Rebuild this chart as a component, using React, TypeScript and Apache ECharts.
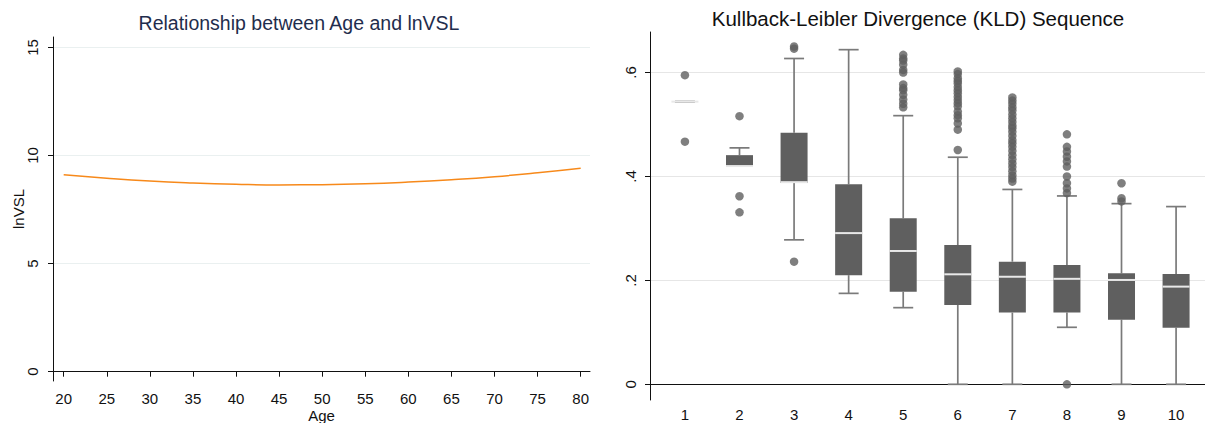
import React, { useEffect, useRef } from "react";
import * as echarts from "echarts";

// ---------- Left chart data ----------
const ageTicks = [20, 25, 30, 35, 40, 45, 50, 55, 60, 65, 70, 75, 80];
const lnvslTicks = [0, 5, 10, 15];
const ages = [20, 25, 30, 35, 40, 45, 50, 55, 60, 65, 70, 75, 80];
const lnVSL = [9.11, 8.95, 8.82, 8.73, 8.67, 8.64, 8.65, 8.69, 8.77, 8.88, 9.02, 9.2, 9.41];

// ---------- Right chart data ----------
const groups = [1, 2, 3, 4, 5, 6, 7, 8, 9, 10];
const whiskerLow = [0.544, 0.42, 0.278, 0.175, 0.1475, 0, 0, 0.1097, 0, 0];
const q1 = [0.544, 0.42, 0.3875, 0.21, 0.178, 0.1527, 0.138, 0.138, 0.1244, 0.109];
const median = [0.544, 0.42, 0.389, 0.291, 0.2566, 0.2117, 0.207, 0.203, 0.2008, 0.188];
const q3 = [0.544, 0.441, 0.484, 0.385, 0.3195, 0.268, 0.236, 0.2297, 0.2137, 0.2123];
const whiskerHigh = [0.544, 0.455, 0.627, 0.644, 0.517, 0.437, 0.375, 0.3625, 0.3477, 0.342];
const outliers: number[][] = [
  [0.595, 0.467],
  [0.516, 0.362, 0.331],
  [0.65, 0.646, 0.236],
  [],
  [0.634, 0.627, 0.623, 0.615, 0.605, 0.6, 0.577, 0.57, 0.566, 0.557, 0.548, 0.54, 0.533],
  [0.602, 0.597, 0.589, 0.584, 0.579, 0.572, 0.566, 0.56, 0.553, 0.547, 0.541, 0.535, 0.525, 0.518, 0.512, 0.502, 0.49, 0.451],
  [0.552, 0.546, 0.54, 0.533, 0.527, 0.519, 0.512, 0.505, 0.498, 0.493, 0.486, 0.478, 0.47, 0.464, 0.457, 0.449, 0.441, 0.433, 0.425, 0.418, 0.41, 0.402, 0.396, 0.39],
  [0.481, 0.457, 0.448, 0.438, 0.429, 0.419, 0.4, 0.387, 0.377, 0.368, 0],
  [0.387, 0.358, 0.352],
  [],
];
const kldTicks = [0, 0.2, 0.4, 0.6];

const FONT = "'Liberation Sans', Arial, Helvetica, sans-serif";
const BOX = "#5f5f5f";
const WHISK = "#7a7a7a";

export default function App() {
  const ref = useRef<HTMLDivElement>(null);
  useEffect(() => {
    if (!ref.current) return;
    const chart = echarts.init(ref.current, null, { renderer: "svg" });

    const boxData = groups.map((g, i) => [g, whiskerLow[i], q1[i], median[i], q3[i], whiskerHigh[i]]);
    const outData: number[][] = [];
    groups.forEach((g, i) => outliers[i].forEach((v) => outData.push([g, v])));

    const option: any = {
      animation: false,
      textStyle: { fontFamily: FONT },
      graphic: [
        {
          type: "text",
          x: 299,
          y: 23,
          style: {
            text: "Relationship between Age and lnVSL",
            textAlign: "center",
            textVerticalAlign: "middle",
            font: `19.5px ${FONT}`,
            fill: "#1f2d4d",
          },
        },
        {
          type: "text",
          x: 918,
          y: 18,
          style: {
            text: "Kullback-Leibler Divergence (KLD) Sequence",
            textAlign: "center",
            textVerticalAlign: "middle",
            font: `20.5px ${FONT}`,
            fill: "#111",
          },
        },
      ],
      grid: [
        { left: 53, top: 37, width: 537, height: 344, containLabel: false, outerBoundsMode: "none" },
        { left: 650, top: 32, width: 555, height: 368, containLabel: false, outerBoundsMode: "none" },
      ],
      xAxis: [
        {
          type: "value",
          gridIndex: 0,
          min: 18.76,
          max: 81.08,
          name: "Age",
          nameLocation: "middle",
          nameGap: 27,
          nameMoveOverlap: false,
          nameTextStyle: { fontSize: 15, color: "#111", fontFamily: FONT },
          axisLine: { show: true, lineStyle: { color: "#111", width: 1 } },
          axisTick: { show: true, customValues: ageTicks, length: 5, lineStyle: { color: "#111" } },
          axisLabel: { customValues: ageTicks, fontSize: 15, color: "#111", margin: 10, fontFamily: FONT },
          splitLine: { show: false },
        },
        {
          type: "value",
          gridIndex: 1,
          min: 0.36,
          max: 10.53,
          axisLine: { show: true, lineStyle: { color: "#111", width: 1 } },
          axisTick: { show: false, customValues: groups },
          axisLabel: { customValues: groups, fontSize: 15, color: "#111", margin: 7, fontFamily: FONT },
          splitLine: { show: false },
        },
      ],
      yAxis: [
        {
          type: "value",
          gridIndex: 0,
          min: -0.43,
          max: 15.48,
          name: "lnVSL",
          nameLocation: "middle",
          nameGap: 27,
          nameRotate: 90,
          nameMoveOverlap: false,
          nameTextStyle: { fontSize: 15, color: "#111", fontFamily: FONT },
          axisLine: { show: true, lineStyle: { color: "#111", width: 1 } },
          axisTick: { show: true, customValues: lnvslTicks, length: 5, lineStyle: { color: "#111" } },
          axisLabel: { customValues: lnvslTicks, rotate: 90, fontSize: 15, color: "#111", margin: 13, fontFamily: FONT },
          splitLine: { show: true, lineStyle: { color: "#eaf0f0", width: 1.2 } },
        },
        {
          type: "value",
          gridIndex: 1,
          min: -0.0302,
          max: 0.678,
          axisLine: { show: true, lineStyle: { color: "#111", width: 1 } },
          axisTick: { show: true, customValues: kldTicks, length: 5, lineStyle: { color: "#111" } },
          axisLabel: {
            customValues: kldTicks,
            rotate: 90,
            fontSize: 15,
            color: "#111",
            margin: 12,
            fontFamily: FONT,
            formatter: (v: number) => (Math.abs(v) < 1e-9 ? "0" : v.toFixed(1).replace(/^0/, "")),
          },
          splitLine: { show: true, lineStyle: { color: "#e6e6e6", width: 1.2 } },
        },
      ],
      series: [
        {
          type: "line",
          xAxisIndex: 0,
          yAxisIndex: 0,
          data: ages.map((a, i) => [a, lnVSL[i]]),
          smooth: true,
          showSymbol: false,
          lineStyle: { color: "#f7891a", width: 1.5 },
        },
        {
          type: "custom",
          xAxisIndex: 1,
          yAxisIndex: 1,
          data: boxData,
          encode: { x: 0, y: [1, 2, 3, 4, 5] },
          renderItem: (params: any, api: any) => {
            const x = api.value(0);
            const cx = api.coord([x, api.value(1)])[0];
            const yWl = api.coord([x, api.value(1)])[1];
            const yQ1 = api.coord([x, api.value(2)])[1];
            const yMed = api.coord([x, api.value(3)])[1];
            const yQ3 = api.coord([x, api.value(4)])[1];
            const yWh = api.coord([x, api.value(5)])[1];
            const bw = 27;
            const cw = 20;
            const children: any[] = [];
            children.push({
              type: "line",
              shape: { x1: cx, y1: yQ3, x2: cx, y2: yWh },
              style: { stroke: WHISK, lineWidth: 1.7 },
            });
            children.push({
              type: "line",
              shape: { x1: cx, y1: yQ1, x2: cx, y2: yWl },
              style: { stroke: WHISK, lineWidth: 1.7 },
            });
            children.push({
              type: "line",
              shape: { x1: cx - cw / 2, y1: yWh, x2: cx + cw / 2, y2: yWh },
              style: { stroke: WHISK, lineWidth: 1.7 },
            });
            children.push({
              type: "line",
              shape: { x1: cx - cw / 2, y1: yWl, x2: cx + cw / 2, y2: yWl },
              style: { stroke: WHISK, lineWidth: 1.7 },
            });
            if (yQ1 - yQ3 > 0.5) {
              children.push({
                type: "rect",
                shape: { x: cx - bw / 2, y: yQ3, width: bw, height: yQ1 - yQ3 },
                style: { fill: BOX, stroke: null },
              });
            }
            children.push({
              type: "line",
              shape: { x1: cx - bw / 2, y1: yMed, x2: cx + bw / 2, y2: yMed },
              style: { stroke: "#e8e8e8", lineWidth: 2 },
            });
            return { type: "group", children };
          },
        },
        {
          type: "scatter",
          xAxisIndex: 1,
          yAxisIndex: 1,
          data: outData,
          symbol: "circle",
          symbolSize: 8.5,
          itemStyle: { color: BOX },
        },
      ],
    };
    chart.setOption(option);
    return () => chart.dispose();
  }, []);

  return (
    <div
      ref={ref}
      style={{ position: "fixed", left: 0, top: 0, width: 1205, height: 423, background: "#fff" }}
    />
  );
}
